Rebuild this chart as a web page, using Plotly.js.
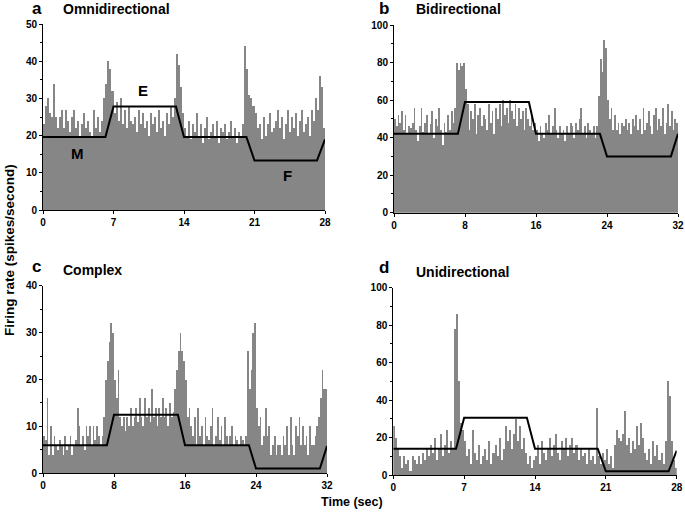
<!DOCTYPE html>
<html><head><meta charset="utf-8">
<script src="https://cdn.plot.ly/plotly-3.0.1.min.js"></script>
<style>body{margin:0;padding:0;background:#fff}#chart{width:685px;height:514px}</style>
</head><body><div id="chart"></div>
<script>
// Bin width (seconds)
const binWidth = 0.2;

// Panel a: Omnidirectional (0-28 s)
const rateA = [23,28,30,26,25, 34,25,22,25,27, 22,27,24,21,25, 27,22,24,20,23, 26,22,24,21,20, 27,22,25,21,24,
  30,34,40,38,32, 26,29,24,30,23, 27,22,28,24,23, 25,21,27,23,26, 22,24,20,26,23, 25,21,27,22,24, 20,26,23,28,25,
  30,42,39,33,26, 22,20,24,19,23, 21,26,20,23,18, 22,25,19,21,23, 20,24,18,22,21, 23,19,21,24,20, 22,18,21,20,23,
  44,38,31,30,28, 26,22,23,19,25, 20,23,26,21,22, 24,27,22,25,19, 23,27,21,25,22, 26,20,24,27,21, 23,25,20,27,24,
  30,27,36,33,22];
const lineAx = [0,6.2,7,13.2,14,20.2,21,27.2,28];
const lineAy = [19.6,19.6,27.8,27.8,19.6,19.6,13.3,13.3,19];

// Panel b: Bidirectional (0-32 s)
const rateB = [50,46,52,48,54, 44,52,42,46,45, 48,56,44,38,46, 56,43,48,52,42, 47,54,40,50,46, 56,44,36,48,43, 52,44,54,48,56,
  80,76,80,78,80, 66,58,44,54,50, 58,42,52,56,46, 52,50,44,58,48, 54,42,56,50,58, 46,60,52,56,48, 60,54,50,58,46, 56,50,54,44,56,
  50,46,52,44,48, 44,38,46,42,40, 48,44,52,42,46, 56,44,40,46,42, 44,38,46,42,48, 46,40,48,44,50, 56,42,46,40,48, 44,42,46,40,46,
  62,82,75,92,88, 60,50,56,44,52, 44,48,42,48,46, 50,44,48,42,50, 46,52,44,50,42, 56,44,48,54,46, 42,52,56,44,50, 46,56,42,48,58, 46,54,44,50,48];
const lineBx = [0,7.2,8,15.2,16,23.2,24,31.2,32];
const lineBy = [42,42,59,59,42,42,30,30,42];

// Panel c: Complex (0-32 s)
const rateC = [8,7,16,4,10, 4,8,6,5,7, 6,4,8,5,6, 8,4,6,7,14, 10,6,8,5,10, 8,10,6,10,7, 10,8,6,8,12,
  20,24,28,32,30, 20,16,22,12,10, 12,9,12,10,14, 10,12,14,11,16, 12,10,16,12,14, 11,18,12,14,10, 14,12,16,12,14, 10,15,12,13,18,
  22,26,30,26,24, 20,12,14,10,8, 12,6,14,8,10, 6,12,8,7,10, 14,6,8,12,7, 10,6,12,8,6, 8,10,6,8,7, 6,8,7,6,8,
  26,18,22,30,32, 14,10,12,6,8, 14,8,10,4,6, 8,4,6,6,4, 8,6,10,4,12, 6,4,10,8,12, 6,10,6,8,4, 10,6,6,8,10, 12,16,22,18,18];
const lineCx = [0,7.2,8,15.2,16,23.2,24,31.2,32];
const lineCy = [6,6,12.5,12.5,6,6,1,1,5.8];

// Panel d: Unidirectional (0-28 s)
const rateD = [26,20,14,10,4, 10,6,8,2,10, 8,6,10,6,12, 8,14,10,16,12, 20,8,14,22,10, 16,24,12,18,14,
  78,86,50,28,24, 18,10,14,6,24, 12,8,16,6,10, 14,8,18,6,12, 16,10,20,8,14, 26,18,24,14,22, 30,18,26,14,20,
  12,6,10,4,8, 10,16,6,18,12, 8,14,20,10,16, 22,12,8,18,14, 20,10,16,20,12, 16,8,14,10,12, 6,14,8,10,6,
  36,10,6,12,8, 14,6,10,4,16, 24,20,18,22,34, 16,20,12,18,14, 26,16,28,20,12, 8,14,6,18,10, 16,8,12,6,18,
  50,42,18,8,4];
const lineDx = [0,6.2,7,13.2,14,20.2,21,27.2,28];
const lineDy = [14,14,30.5,30.5,14,14,2,2,13];

// Tick labels
const ticksA = [0,7,14,21,28];
const ticksB = [0,8,16,24,32];
const ticksC = [0,8,16,24,32];
const ticksD = [0,7,14,21,28];

const W = 685, H = 514;
const barColor = 'rgb(134,134,134)';
const centers = arr => arr.map((_, i) => (i + 0.5) * binWidth);

function barTrace(vals, xa, ya) {
  return {type:'bar', x: centers(vals), y: vals, width: binWidth, xaxis: xa, yaxis: ya,
    marker:{color: barColor, line:{width:0}}, hoverinfo:'skip', showlegend:false};
}
function lineTrace(xs, ys, xa, ya) {
  return {type:'scatter', mode:'lines', x: xs, y: ys, xaxis: xa, yaxis: ya,
    line:{color:'#000', width:2}, hoverinfo:'skip', showlegend:false};
}

const data = [
  barTrace(rateA,'x','y'), lineTrace(lineAx,lineAy,'x','y'),
  barTrace(rateB,'x2','y2'), lineTrace(lineBx,lineBy,'x2','y2'),
  barTrace(rateC,'x3','y3'), lineTrace(lineCx,lineCy,'x3','y3'),
  barTrace(rateD,'x4','y4'), lineTrace(lineDx,lineDy,'x4','y4')
];

const tickFont = {family:'Liberation Sans, Arial, sans-serif', size:10, color:'#000', weight:'bold'};
function xax(x0, x1, max, ticks, anchor) {
  return {domain:[x0/W, x1/W], range:[0,max], tickvals: ticks, ticktext: ticks.map(String),
    showgrid:false, zeroline:false, showline:true, linecolor:'#000', linewidth:1,
    ticks:'outside', ticklen:3, tickcolor:'#000', tickfont: tickFont, anchor: anchor, fixedrange:true};
}
function yax(ytop, ybot, max, dt, anchor) {
  return {domain:[(H-ybot)/H, (H-ytop)/H], range:[0,max], dtick: dt, tick0:0,
    showgrid:false, zeroline:false, showline:true, linecolor:'#000', linewidth:1,
    ticks:'outside', ticklen:3, tickcolor:'#000', tickfont: tickFont, anchor: anchor,
    minor:{dtick: dt/2, ticks:'outside', ticklen:2, tickcolor:'#000', showgrid:false}, fixedrange:true};
}

const labFont = {family:'Liberation Sans, Arial, sans-serif', size:17, color:'#000', weight:'bold'};
const titFont = {family:'Liberation Sans, Arial, sans-serif', size:14, color:'#000', weight:'bold'};
const letFont = {family:'Liberation Sans, Arial, sans-serif', size:15, color:'#000', weight:'bold'};
function pa(x, y, text, font, extra) {
  return Object.assign({xref:'paper', yref:'paper', x: x/W, y: (H-y)/H, text: text, showarrow:false,
    font: font, xanchor:'left', yanchor:'middle'}, extra||{});
}

const layout = {
  width: W, height: H, margin:{l:0,r:0,t:0,b:0}, paper_bgcolor:'#fff', plot_bgcolor:'rgba(0,0,0,0)',
  bargap:0, showlegend:false,
  xaxis: xax(43, 325, 28, ticksA, 'y'),
  yaxis: yax(24, 210, 50, 10, 'x'),
  xaxis2: xax(394, 678, 32, ticksB, 'y2'),
  yaxis2: yax(25, 212.7, 100, 20, 'x2'),
  xaxis3: xax(43, 327, 32, ticksC, 'y3'),
  yaxis3: yax(285.7, 473.3, 40, 10, 'x3'),
  xaxis4: xax(393.3, 676.7, 28, ticksD, 'y4'),
  yaxis4: yax(287.7, 475, 100, 20, 'x4'),
  annotations: [
    pa(30, 8.5, 'a', labFont), pa(61, 9, 'Omnidirectional', titFont),
    pa(377, 8.5, 'b', labFont), pa(414, 9, 'Bidirectional', titFont),
    pa(30, 267, 'c', labFont), pa(61, 270, 'Complex', titFont),
    pa(377, 267.5, 'd', labFont), pa(414, 271.5, 'Unidirectional', titFont),
    {xref:'x', yref:'y', x:3.4, y:15.3, text:'M', showarrow:false, font: letFont},
    {xref:'x', yref:'y', x:9.9, y:32, text:'E', showarrow:false, font: letFont},
    {xref:'x', yref:'y', x:24.3, y:9.2, text:'F', showarrow:false, font: letFont},
    pa(9, 250, 'Firing rate (spikes/second)', {family:'Liberation Sans, Arial, sans-serif', size:13.5, color:'#000', weight:'bold'}, {textangle:-90, xanchor:'center'}),
    pa(352, 502, 'Time (sec)', {family:'Liberation Sans, Arial, sans-serif', size:12.5, color:'#000', weight:'bold'}, {xanchor:'center'})
  ]
};

Plotly.newPlot('chart', data, layout, {staticPlot:true, displayModeBar:false});
</script></body></html>
